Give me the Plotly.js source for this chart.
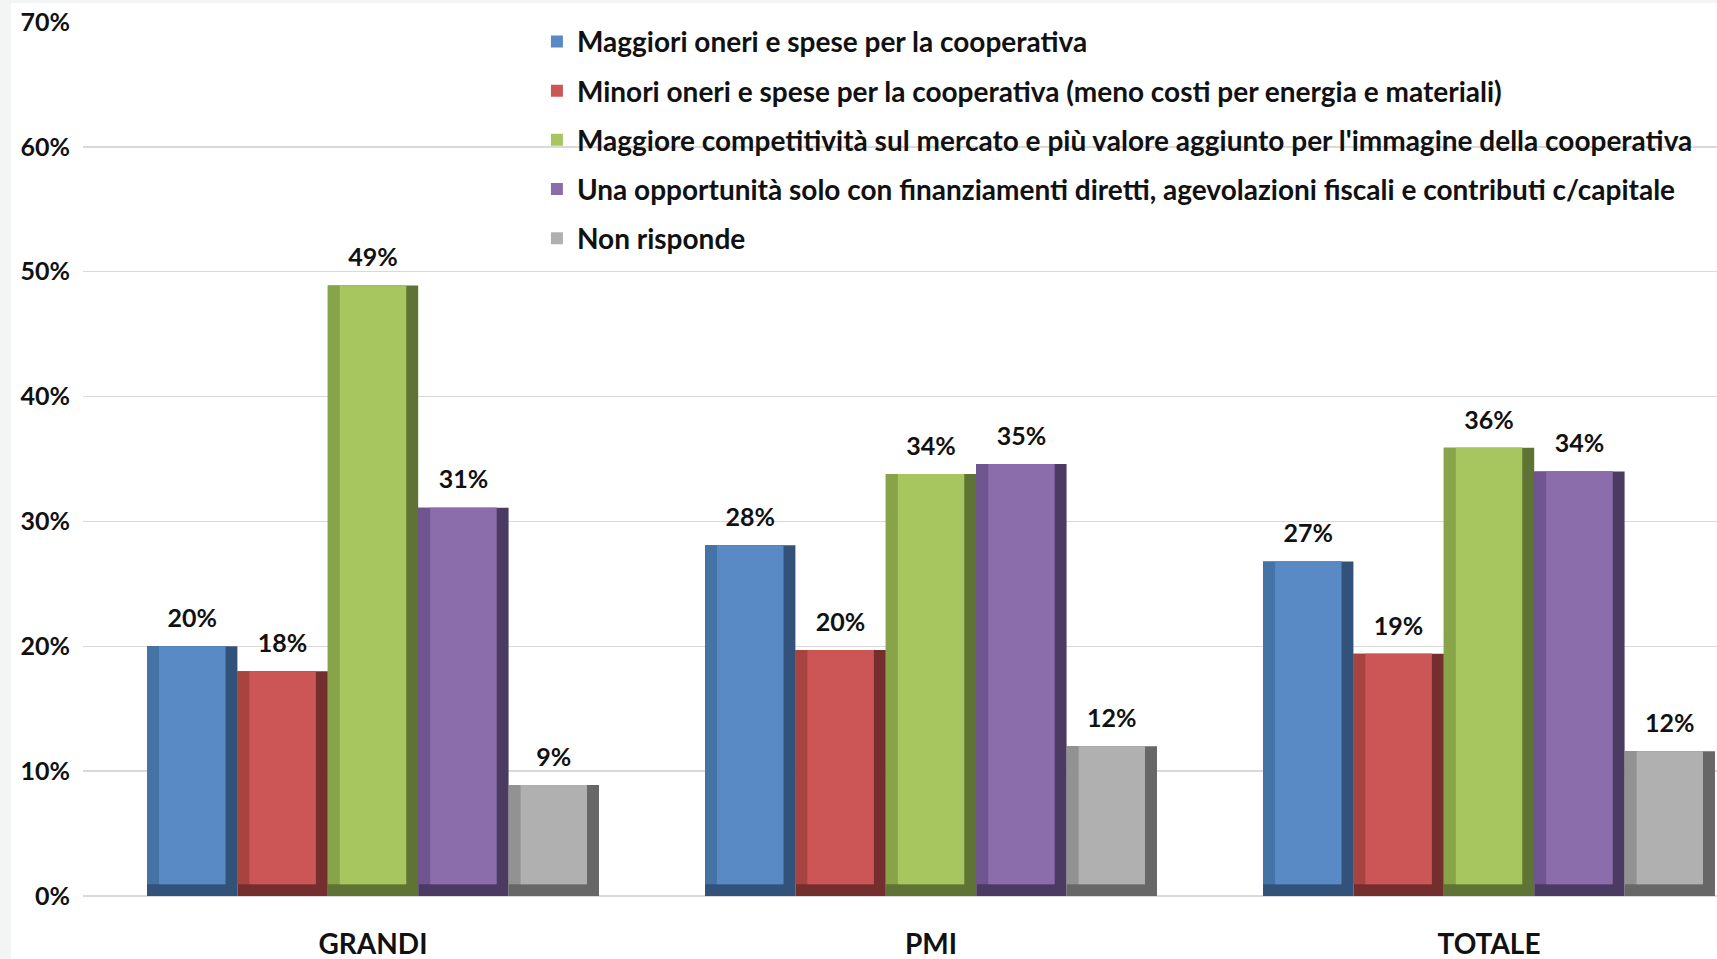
<!DOCTYPE html>
<html>
<head>
<meta charset="utf-8">
<script src="https://cdn.plot.ly/plotly-3.0.1.min.js"></script>
<style>
  html, body { margin: 0; padding: 0; background: #f3f5f5; width: 1717px; height: 959px; overflow: hidden; }
  #chart { position: absolute; left: 11px; top: 3px; width: 1706px; height: 956px; background: #ffffff; }
</style>
</head>
<body>
<div id="chart"></div>
<script>
// ---- data ----
const categories = ["GRANDI", "PMI", "TOTALE"];
const seriesNames = [
  "Maggiori oneri e spese per la cooperativa",
  "Minori oneri e spese per la cooperativa (meno costi per energia e materiali)",
  "Maggiore competitività sul mercato e più valore aggiunto per l'immagine della cooperativa",
  "Una opportunità solo con finanziamenti diretti, agevolazioni fiscali e contributi c/capitale",
  "Non risponde"
];
const maggioriOneri   = [20.0, 28.1, 26.8];
const minoriOneri     = [18.0, 19.7, 19.4];
const competitivita   = [48.9, 33.8, 35.9];
const opportunita     = [31.1, 34.6, 34.0];
const nonRisponde     = [8.9, 12.0, 11.6];
const yTicks = [0, 10, 20, 30, 40, 50, 60, 70];

// ---- styles ----
const mainColors  = ["#5a8ac6", "#cc5656", "#a8c660", "#8b6dab", "#b0b0b0"];
const leftColors  = ["#4673a5", "#a84440", "#88a448", "#6f5690", "#929292"];
const darkColors  = ["#32527a", "#742e2e", "#5f7334", "#4b3a62", "#676767"];

const seriesValues = [maggioriOneri, minoriOneri, competitivita, opportunita, nonRisponde];
const groupWidth = 0.81;
const barW = groupWidth / seriesValues.length;
const bevX = 0.0215;   // bevel width in category units (~12px)
const bevY = 0.95;     // bevel height in % units (~12px)
const labelLift = 0.9; // extra gap between bar top and its label (% units)
const FONT = "Lato, 'Open Sans', sans-serif";

const traces = [];
// layer 0: invisible carrier for the value labels (slightly lifted)
seriesValues.forEach((vals, i) => {
  traces.push({
    type: "bar", x: categories, y: vals.map(v => v + labelLift),
    customdata: vals,
    offset: -groupWidth / 2 + i * barW, width: barW,
    marker: { color: "rgba(0,0,0,0)", line: { width: 0 } },
    texttemplate: "%{customdata:.0f}%", textposition: "outside", cliponaxis: false,
    textfont: { family: FONT, size: 25, color: "#111111", weight: "bold" },
    legendgroup: "s" + i, showlegend: false, hoverinfo: "skip"
  });
});
// layer 1: full bar (dark shade: right + bottom bevel)
seriesValues.forEach((vals, i) => {
  traces.push({
    type: "bar", x: categories, y: vals,
    offset: -groupWidth / 2 + i * barW, width: barW,
    marker: { color: darkColors[i], line: { width: 0 } },
    legendgroup: "s" + i, showlegend: false, hoverinfo: "skip"
  });
});
// layer 2: left bevel shade
seriesValues.forEach((vals, i) => {
  traces.push({
    type: "bar", x: categories, y: vals.map(v => v - bevY), base: bevY,
    offset: -groupWidth / 2 + i * barW, width: barW - bevX,
    marker: { color: leftColors[i], line: { width: 0 } },
    legendgroup: "s" + i, showlegend: false, hoverinfo: "skip"
  });
});
// layer 3: main face
seriesValues.forEach((vals, i) => {
  traces.push({
    type: "bar", x: categories, y: vals.map(v => v - bevY), base: bevY,
    offset: -groupWidth / 2 + i * barW + bevX, width: barW - 2 * bevX,
    marker: { color: mainColors[i], line: { width: 0 } },
    name: seriesNames[i], legendgroup: "s" + i, showlegend: true, hoverinfo: "skip"
  });
});

const layout = {
  width: 1706, height: 956,
  paper_bgcolor: "#ffffff", plot_bgcolor: "#ffffff",
  margin: { l: 72, r: 0, t: 19, b: 63, pad: 0 },
  barmode: "overlay",
  showlegend: true,
  font: { family: FONT, color: "#111111" },
  xaxis: {
    type: "category", range: [-0.5197, 2.4086], fixedrange: true,
    showgrid: false, zeroline: false, showline: false, ticks: "",
    ticklabelstandoff: 29,
    tickfont: { family: FONT, size: 28, color: "#111111", weight: "bold" }
  },
  yaxis: {
    range: [0, 70], tickvals: yTicks, ticktext: yTicks.map(t => t + "%"),
    showgrid: true, gridcolor: "#d9d9d9", gridwidth: 1.5,
    zeroline: true, zerolinecolor: "#d9d9d9", zerolinewidth: 1.5,
    showline: false, ticks: "", ticklabelstandoff: 12, fixedrange: true,
    tickfont: { family: FONT, size: 25, color: "#111111", weight: "bold" }
  },
  legend: {
    x: 0.2778, xanchor: "left", y: 1.006, yanchor: "top",
    bgcolor: "rgba(0,0,0,0)", borderwidth: 0,
    traceorder: "grouped", tracegroupgap: 9.8,
    font: { family: FONT, size: 28, color: "#111111", weight: "bold" },
    itemclick: false, itemdoubleclick: false
  }
};

Plotly.newPlot("chart", traces, layout, { displayModeBar: false, staticPlot: true });
</script>
</body>
</html>
